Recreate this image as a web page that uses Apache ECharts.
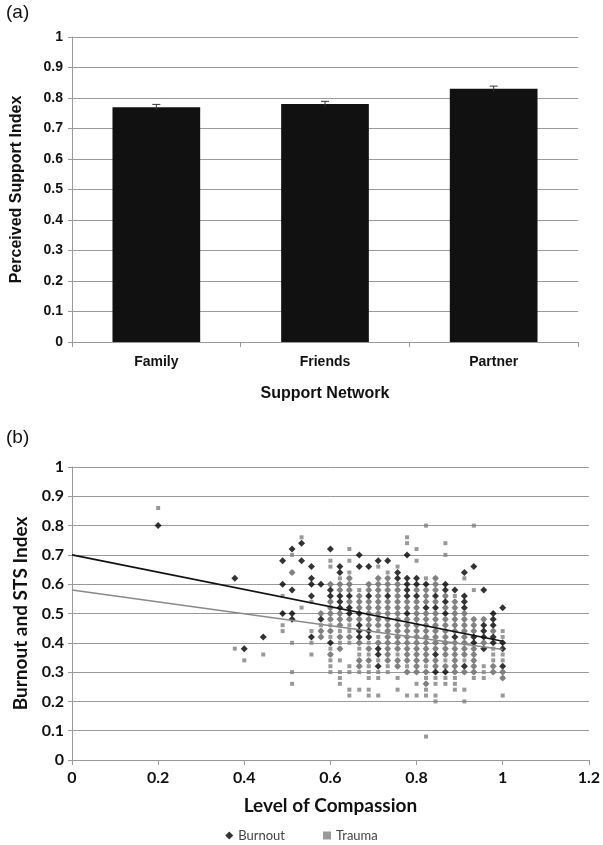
<!DOCTYPE html>
<html>
<head>
<meta charset="utf-8">
<script src="https://cdn.jsdelivr.net/npm/echarts@6/dist/echarts.min.js"></script>
<style>
  html, body { margin: 0; padding: 0; background: #fff; }
  #main { width: 603px; height: 845px; }
</style>
</head>
<body>
<div id="main"></div>
<script>
// (a) support network bars
var networks = ['Family', 'Friends', 'Partner'];
var supportIndex = [0.77, 0.78, 0.83];
var supportErr = [0.009, 0.009, 0.009];
var supportTicks = [0, 0.1, 0.2, 0.3, 0.4, 0.5, 0.6, 0.7, 0.8, 0.9, 1];

// (b) compassion levels (x) and the y values seen at each level
var compassion = [0.2, 0.378, 0.4, 0.444, 0.489, 0.511, 0.533, 0.556, 0.578, 0.6,
  0.622, 0.644, 0.667, 0.689, 0.711, 0.733, 0.756, 0.778, 0.8, 0.822,
  0.844, 0.867, 0.889, 0.911, 0.933, 0.956, 0.978, 1.0];

var burnoutAt = [
  [0.80],
  [0.62],
  [0.38],
  [0.42],
  [0.68, 0.60, 0.50],
  [0.72, 0.64, 0.58, 0.50, 0.48],
  [0.74, 0.68],
  [0.66, 0.62, 0.60, 0.56, 0.42],
  [0.60, 0.50, 0.48, 0.44, 0.42],
  [0.72, 0.60, 0.58, 0.56, 0.54, 0.52, 0.50, 0.48, 0.44, 0.40, 0.36],
  [0.66, 0.64, 0.60, 0.58, 0.56, 0.54, 0.52, 0.50, 0.48, 0.46, 0.42, 0.38],
  [0.62, 0.60, 0.58, 0.56, 0.54, 0.52, 0.50, 0.48, 0.42],
  [0.70, 0.66, 0.56, 0.54, 0.52, 0.50, 0.48, 0.46, 0.44, 0.42, 0.40, 0.34, 0.32],
  [0.66, 0.60, 0.58, 0.56, 0.54, 0.52, 0.50, 0.48, 0.46, 0.44, 0.42, 0.38, 0.34],
  [0.68, 0.62, 0.60, 0.58, 0.56, 0.54, 0.52, 0.50, 0.48, 0.46, 0.40, 0.38, 0.36, 0.32],
  [0.68, 0.62, 0.60, 0.58, 0.56, 0.54, 0.52, 0.50, 0.48, 0.46, 0.44, 0.42, 0.40, 0.38, 0.36, 0.34],
  [0.64, 0.62, 0.60, 0.58, 0.56, 0.54, 0.52, 0.50, 0.48, 0.46, 0.44, 0.42, 0.40, 0.38, 0.34, 0.32],
  [0.70, 0.62, 0.60, 0.58, 0.56, 0.54, 0.52, 0.50, 0.48, 0.46, 0.44, 0.42, 0.40, 0.38, 0.36, 0.34, 0.30],
  [0.62, 0.60, 0.58, 0.56, 0.54, 0.52, 0.50, 0.48, 0.46, 0.44, 0.42, 0.40, 0.38, 0.36, 0.34, 0.32, 0.30],
  [0.60, 0.58, 0.56, 0.54, 0.52, 0.50, 0.48, 0.46, 0.44, 0.42, 0.40, 0.38, 0.36, 0.34, 0.30, 0.26],
  [0.62, 0.60, 0.58, 0.56, 0.54, 0.52, 0.50, 0.48, 0.46, 0.44, 0.42, 0.40, 0.38, 0.36, 0.34, 0.32, 0.30],
  [0.60, 0.58, 0.56, 0.54, 0.52, 0.50, 0.48, 0.46, 0.44, 0.42, 0.40, 0.38, 0.36, 0.32, 0.30],
  [0.58, 0.54, 0.52, 0.50, 0.48, 0.46, 0.44, 0.42, 0.40, 0.38, 0.36, 0.34, 0.32, 0.30],
  [0.64, 0.56, 0.54, 0.52, 0.50, 0.48, 0.46, 0.44, 0.42, 0.40, 0.38, 0.36, 0.32, 0.30],
  [0.66, 0.48, 0.46, 0.44, 0.42, 0.40, 0.38, 0.36, 0.34, 0.32, 0.30],
  [0.58, 0.48, 0.46, 0.44, 0.42, 0.40, 0.38],
  [0.50, 0.48, 0.46, 0.44, 0.42, 0.40, 0.32, 0.30],
  [0.52, 0.40, 0.38, 0.32, 0.30, 0.28]
];

var traumaAt = [
  [0.86],
  [0.38],
  [0.34],
  [0.36],
  [0.56, 0.46, 0.44],
  [0.70, 0.64, 0.40, 0.30, 0.26],
  [0.76, 0.52],
  [0.54, 0.44, 0.40, 0.36],
  [0.50, 0.46, 0.44, 0.42],
  [0.68, 0.66, 0.60, 0.54, 0.52, 0.50, 0.48, 0.46, 0.44, 0.42, 0.38, 0.36, 0.34, 0.32, 0.30],
  [0.62, 0.60, 0.58, 0.50, 0.48, 0.46, 0.44, 0.42, 0.40, 0.38, 0.34, 0.30, 0.28, 0.26],
  [0.72, 0.68, 0.64, 0.62, 0.60, 0.58, 0.54, 0.48, 0.46, 0.44, 0.42, 0.40, 0.32, 0.30, 0.24, 0.22],
  [0.58, 0.56, 0.54, 0.52, 0.48, 0.40, 0.38, 0.36, 0.34, 0.32, 0.30, 0.24],
  [0.60, 0.58, 0.54, 0.52, 0.50, 0.48, 0.46, 0.40, 0.38, 0.36, 0.34, 0.32, 0.30, 0.28, 0.24, 0.22],
  [0.66, 0.62, 0.60, 0.58, 0.56, 0.54, 0.52, 0.50, 0.48, 0.46, 0.44, 0.42, 0.40, 0.34, 0.30, 0.28, 0.22],
  [0.64, 0.62, 0.60, 0.58, 0.54, 0.52, 0.50, 0.48, 0.46, 0.44, 0.42, 0.40, 0.38, 0.36, 0.34, 0.32, 0.30],
  [0.66, 0.60, 0.58, 0.56, 0.54, 0.52, 0.50, 0.48, 0.46, 0.44, 0.42, 0.40, 0.38, 0.36, 0.34, 0.32, 0.28, 0.24],
  [0.76, 0.74, 0.54, 0.52, 0.48, 0.46, 0.44, 0.42, 0.40, 0.38, 0.36, 0.34, 0.32, 0.30, 0.22],
  [0.72, 0.68, 0.58, 0.54, 0.52, 0.50, 0.48, 0.46, 0.44, 0.42, 0.40, 0.38, 0.36, 0.34, 0.32, 0.30, 0.26, 0.22],
  [0.80, 0.62, 0.58, 0.56, 0.54, 0.50, 0.48, 0.46, 0.44, 0.42, 0.40, 0.38, 0.36, 0.34, 0.32, 0.30, 0.28, 0.26, 0.24, 0.22, 0.08],
  [0.62, 0.60, 0.58, 0.54, 0.50, 0.48, 0.46, 0.44, 0.42, 0.40, 0.38, 0.34, 0.32, 0.28, 0.26, 0.22, 0.20],
  [0.74, 0.70, 0.56, 0.52, 0.48, 0.46, 0.44, 0.42, 0.40, 0.38, 0.36, 0.34, 0.32, 0.28, 0.26],
  [0.56, 0.54, 0.52, 0.50, 0.48, 0.46, 0.44, 0.40, 0.38, 0.36, 0.34, 0.32, 0.30, 0.28, 0.26, 0.24],
  [0.62, 0.50, 0.48, 0.46, 0.44, 0.42, 0.40, 0.38, 0.36, 0.34, 0.30, 0.24, 0.20],
  [0.80, 0.58, 0.48, 0.46, 0.44, 0.38, 0.36, 0.34, 0.32, 0.30, 0.28],
  [0.48, 0.40, 0.32, 0.30, 0.28],
  [0.44, 0.38, 0.36, 0.34, 0.32, 0.30],
  [0.44, 0.42, 0.36, 0.34, 0.30, 0.28, 0.22]
];

// linear trend lines: value at x=0 and x=1
var trendX = [0, 1];
var burnoutTrend = [0.70, 0.405];
var traumaTrend = [0.58, 0.377];

var compassionTicks = [0, 0.2, 0.4, 0.6, 0.8, 1, 1.2];
var stsTicks = [0, 0.1, 0.2, 0.3, 0.4, 0.5, 0.6, 0.7, 0.8, 0.9, 1];

(function () {
  var chart = echarts.init(document.getElementById('main'));

  function toPoints(ys) {
    var pts = [];
    compassion.forEach(function (x, i) {
      ys[i].forEach(function (y) { pts.push([x, y]); });
    });
    return pts;
  }
  var burnoutPts = toPoints(burnoutAt);
  var traumaPts = toPoints(traumaAt);

  // a burnout diamond hidden under a trauma square shows up grey in the print
  var shared = {};
  traumaPts.forEach(function (p) { shared[p[0] + '_' + p[1]] = true; });

  var fontA = 'Liberation Sans, Arial, sans-serif';
  var fontB = 'Lato, Liberation Sans, sans-serif';
  var gridGrey = '#9a9a9a';

  var option = {
    animation: false,
    backgroundColor: '#fff',
    graphic: [
      { type: 'text', left: 6, top: 3, style: { text: '(a)', font: '19px Liberation Sans', fill: '#111' } },
      { type: 'text', left: 6, top: 428, style: { text: '(b)', font: '19px Liberation Sans', fill: '#111' } }
    ],
    legend: {
      data: [
        { name: 'Burnout', icon: 'diamond', itemStyle: { color: '#000' } },
        { name: 'Trauma', icon: 'rect' }
      ],
      left: 'center',
      top: 824,
      itemWidth: 8,
      itemHeight: 8,
      itemGap: 38,
      textStyle: { fontFamily: fontB, fontSize: 13, color: '#444' }
    },
    grid: [
      { left: 72, right: 25, top: 37, height: 305 },
      { left: 72, right: 13, top: 467, height: 293 }
    ],
    xAxis: [{
      gridIndex: 0,
      type: 'category',
      data: networks,
      name: 'Support Network',
      nameLocation: 'middle',
      nameGap: 44,
      nameTextStyle: { fontFamily: fontA, fontSize: 16, fontWeight: 'bold', color: '#111' },
      axisLine: { lineStyle: { color: gridGrey } },
      axisTick: { show: true, length: 5, lineStyle: { color: gridGrey } },
      axisLabel: { fontFamily: fontA, fontSize: 14, fontWeight: 'bold', color: '#111', margin: 13 }
    }, {
      gridIndex: 1,
      type: 'value',
      min: compassionTicks[0],
      max: compassionTicks[compassionTicks.length - 1],
      interval: 0.2,
      name: 'Level of Compassion',
      nameLocation: 'middle',
      nameGap: 36,
      nameTextStyle: { fontFamily: fontB, fontSize: 19, fontWeight: 'bold', color: '#111' },
      splitLine: { show: false },
      axisLine: { lineStyle: { color: gridGrey } },
      axisTick: { show: true, length: 5, lineStyle: { color: gridGrey } },
      axisLabel: { fontFamily: fontB, fontSize: 16, fontWeight: 'bold', color: '#111', margin: 10 }
    }],
    yAxis: [{
      gridIndex: 0,
      type: 'value',
      min: supportTicks[0],
      max: supportTicks[supportTicks.length - 1],
      interval: 0.1,
      name: 'Perceived Support Index',
      nameLocation: 'middle',
      nameGap: 47,
      nameTextStyle: { fontFamily: fontA, fontSize: 16, fontWeight: 'bold', color: '#111' },
      axisLine: { show: true, lineStyle: { color: gridGrey } },
      axisTick: { show: true, length: 4, lineStyle: { color: gridGrey } },
      axisLabel: { fontFamily: fontA, fontSize: 14, fontWeight: 'bold', color: '#111', margin: 9 },
      splitLine: { lineStyle: { color: gridGrey, width: 1 } }
    }, {
      gridIndex: 1,
      type: 'value',
      min: stsTicks[0],
      max: stsTicks[stsTicks.length - 1],
      interval: 0.1,
      name: 'Burnout and STS Index',
      nameLocation: 'middle',
      nameGap: 41,
      nameTextStyle: { fontFamily: fontB, fontSize: 19, fontWeight: 'bold', color: '#111' },
      axisLine: { show: true, lineStyle: { color: gridGrey } },
      axisTick: { show: true, length: 4, lineStyle: { color: gridGrey } },
      axisLabel: { fontFamily: fontB, fontSize: 16, fontWeight: 'bold', color: '#111', margin: 8 },
      splitLine: { lineStyle: { color: gridGrey, width: 1 } }
    }],
    series: [{
      type: 'bar',
      xAxisIndex: 0,
      yAxisIndex: 0,
      data: supportIndex,
      barWidth: '52%',
      itemStyle: { color: '#111' }
    }, {
      type: 'custom',
      xAxisIndex: 0,
      yAxisIndex: 0,
      data: supportIndex.map(function (v, i) { return [i, v, supportErr[i]]; }),
      z: 5,
      renderItem: function (params, api) {
        var i = api.value(0), v = api.value(1), e = api.value(2);
        var hi = api.coord([i, v + e]);
        var lo = api.coord([i, v - e]);
        var st = { stroke: '#333', lineWidth: 1 };
        return {
          type: 'group',
          children: [
            { type: 'line', shape: { x1: hi[0], y1: hi[1], x2: lo[0], y2: lo[1] }, style: st },
            { type: 'line', shape: { x1: hi[0] - 4, y1: hi[1], x2: hi[0] + 4, y2: hi[1] }, style: st }
          ]
        };
      }
    }, {
      name: 'Burnout',
      type: 'scatter',
      xAxisIndex: 1,
      yAxisIndex: 1,
      symbol: 'diamond',
      symbolSize: 7,
      data: burnoutPts,
      itemStyle: {
        color: function (p) {
          return shared[p.value[0] + '_' + p.value[1]] ? '#6a6a6a' : '#000';
        }
      },
      z: 2
    }, {
      name: 'Trauma',
      type: 'scatter',
      xAxisIndex: 1,
      yAxisIndex: 1,
      symbol: 'rect',
      symbolSize: 4,
      data: traumaPts,
      itemStyle: { color: '#808080' },
      z: 3
    }, {
      type: 'line',
      xAxisIndex: 1,
      yAxisIndex: 1,
      data: trendX.map(function (x, i) { return [x, burnoutTrend[i]]; }),
      showSymbol: false,
      lineStyle: { color: '#111', width: 1.6 },
      z: 4
    }, {
      type: 'line',
      xAxisIndex: 1,
      yAxisIndex: 1,
      data: trendX.map(function (x, i) { return [x, traumaTrend[i]]; }),
      showSymbol: false,
      lineStyle: { color: '#8a8a8a', width: 1.6 },
      z: 4
    }]
  };

  chart.setOption(option);
})();
</script>
</body>
</html>
